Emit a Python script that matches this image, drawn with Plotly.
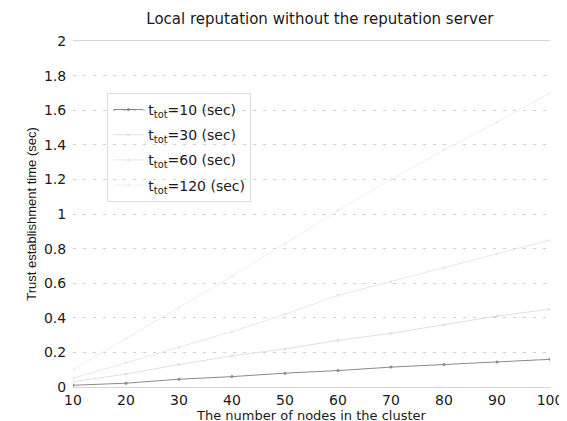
import plotly.graph_objects as go

nodes = [10, 20, 30, 40, 50, 60, 70, 80, 90, 100]
t10 = [0.01, 0.022, 0.045, 0.06, 0.08, 0.095, 0.115, 0.13, 0.145, 0.16]
t30 = [0.03, 0.075, 0.13, 0.18, 0.22, 0.27, 0.31, 0.36, 0.41, 0.45]
t60 = [0.05, 0.14, 0.23, 0.32, 0.42, 0.53, 0.61, 0.69, 0.77, 0.85]
t120 = [0.1, 0.28, 0.46, 0.64, 0.83, 1.02, 1.2, 1.37, 1.53, 1.7]
names = ["t<sub>tot</sub>=10 (sec)", "t<sub>tot</sub>=30 (sec)",
         "t<sub>tot</sub>=60 (sec)", "t<sub>tot</sub>=120 (sec)"]
y_ticks = [0, 0.2, 0.4, 0.6, 0.8, 1, 1.2, 1.4, 1.6, 1.8, 2]
y_labels = ["0", "0.2", "0.4", "0.6", "0.8", "1", "1.2", "1.4", "1.6", "1.8", "2"]

series = [t10, t30, t60, t120]
colors = ["#8a8a8a", "#e0e0e0", "#e8e8e8", "#eeeeee"]

fig = go.Figure()
for i, (ys, nm, c) in enumerate(zip(series, names, colors)):
    fig.add_trace(go.Scatter(x=nodes, y=ys, name=nm, mode="lines+markers",
                             legendgroup=f"g{i}",
                             line=dict(color=c, width=1),
                             marker=dict(color=c, size=3)))

font = "DejaVu Sans, Liberation Sans, sans-serif"
fig.update_layout(
    width=567, height=421,
    margin=dict(l=65, r=15, t=33, b=38),
    paper_bgcolor="white", plot_bgcolor="white",
    font=dict(family=font, size=14, color="#1a1a1a"),
    title=dict(text="Local reputation without the reputation server",
               x=0.55, xanchor="center", y=0.988, yanchor="top",
               font=dict(size=15, color="#1a1a1a")),
    xaxis=dict(range=[10, 100], tickvals=nodes, ticks="", showgrid=False,
               tickfont=dict(size=14),
               zeroline=False, showline=True, mirror=True, linecolor="#d6d6d6",
               linewidth=1,
               title=dict(text="The number of nodes in the cluster", standoff=0,
                          font=dict(size=13))),
    yaxis=dict(range=[0, 2], tickvals=y_ticks, ticktext=y_labels,
               showgrid=True, gridcolor="#cfcfcf", griddash="3px,7px", gridwidth=1,
               zeroline=False, showline=False, ticks="outside", ticklen=3,
               tickcolor="white",
               title=dict(text="Trust establishment time (sec)", standoff=4,
                          font=dict(family="Liberation Sans, Arial, sans-serif",
                                    size=13))),
    legend=dict(x=0.072, y=0.85, xanchor="left", yanchor="top",
                bgcolor="rgba(255,255,255,0)", bordercolor="#dddddd", borderwidth=1,
                font=dict(size=14), tracegroupgap=4, itemwidth=30),
    showlegend=True,
)
fig.write_html("out.html")
